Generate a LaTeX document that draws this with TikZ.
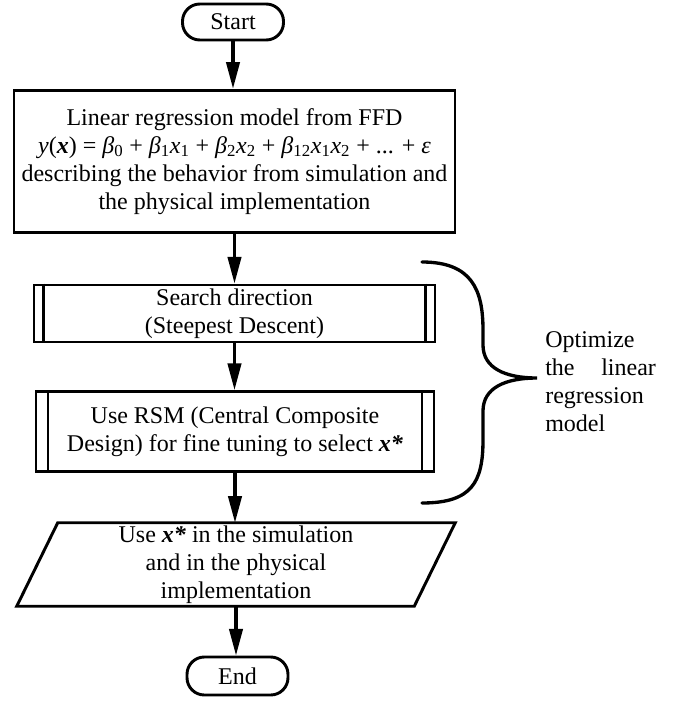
\documentclass[tikz,border=0pt]{standalone}
\usepackage{fontspec}
\setmainfont{Liberation Serif}
\usetikzlibrary{arrows.meta}
\begin{document}
\begin{tikzpicture}[x=0.75pt,y=-0.75pt,
  every node/.style={font=\fontsize{18}{21}\selectfont},
  term/.style={draw, line width=2.2pt, rounded corners=13pt, minimum width=75.75pt, minimum height=27pt, inner sep=0pt},
  procbox/.style={draw, line width=2.2pt, align=center, inner sep=0pt},
  sideline/.style={line width=1.6pt},
  flow/.style={line width=2.4pt, -{Triangle[length=20pt,width=10pt]}},
  bracestyle/.style={line width=2.5pt, line cap=round}
  ]
\useasboundingbox (0,0) rectangle (676,701);
% Start
\node[term] (start) at (233,22) {Start};
% model box
\node[procbox, minimum width=330.75pt, minimum height=107pt] (model) at (234.5,161.5)
  {Linear regression model from FFD\\
   \textit{y}(\textbf{\textit{x}}) = \textit{β}\textsubscript{0} + \textit{β}\textsubscript{1}\textit{x}\textsubscript{1} + \textit{β}\textsubscript{2}\textit{x}\textsubscript{2} + \textit{β}\textsubscript{12}\textit{x}\textsubscript{1}\textit{x}\textsubscript{2} + ... + \textit{ε}\\
   describing the behavior from simulation and\\
   the physical implementation};
% search box
\node[procbox, minimum width=300.75pt, minimum height=42.75pt] (search) at (234.5,313.5)
  {Search direction\\(Steepest Descent)};
\draw[sideline] ([xshift=8.25pt]search.north west) -- ([xshift=8.25pt]search.south west);
\draw[sideline] ([xshift=-8.25pt]search.north east) -- ([xshift=-8.25pt]search.south east);
% RSM box
\node[procbox, minimum width=298.5pt, minimum height=60pt] (rsm) at (235,431.5)
  {Use RSM (Central Composite\\Design) for fine tuning to select \textbf{\textit{x*}}};
\draw[sideline] ([xshift=10pt]rsm.north west) -- ([xshift=10pt]rsm.south west);
\draw[sideline] ([xshift=-10pt]rsm.north east) -- ([xshift=-10pt]rsm.south east);
% parallelogram
\node[align=center, inner sep=0pt, minimum width=297.75pt, minimum height=62.25pt] (use) at (236,564.5)
  {Use \textbf{\textit{x*}} in the simulation\\and in the physical\\implementation};
\draw[line width=2.2pt, line join=miter]
  ([xshift=15.375pt]use.north west) -- ([xshift=15.375pt]use.north east)
  -- ([xshift=-15.375pt]use.south east) -- ([xshift=-15.375pt]use.south west) -- cycle;
% End
\node[term, minimum height=28.5pt] (end) at (237.5,676) {End};
% connectors
\draw[flow] (start.south) -- (start.south |- model.north);
\draw[flow] (model.south -| search.north) -- (search.north);
\draw[flow] (search.south) -- (search.south |- rsm.north);
\draw[flow] (rsm.south) -- (rsm.south |- use.north);
\draw[flow] (use.south) -- (use.south |- end.north);
% brace
\coordinate (btop) at (422,262);
\coordinate (btip) at (537,378);
\coordinate (bbot) at (422,503);
\draw[bracestyle] (btop) .. controls (472,262) and (483,290) .. (483,330) -- (483,345)
  .. controls (483,368) and (505,378) .. (btip)
  .. controls (505,378) and (483,388) .. (483,411) -- (483,440)
  .. controls (483,482) and (472,503) .. (bbot);
% label
\node[anchor=west, align=left, text width=83pt, inner sep=0pt] (opt) at (545,382)
  {Optimize\\the\hfill linear\\regression\\model};
\end{tikzpicture}
\end{document}
